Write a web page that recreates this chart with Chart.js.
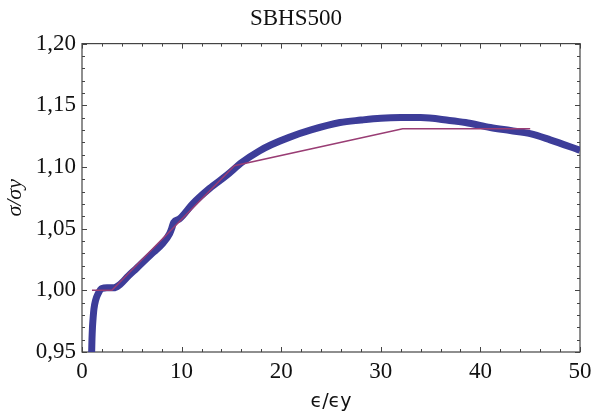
<!DOCTYPE html>
<html>
<head>
<meta charset="utf-8">
<script src="https://cdn.jsdelivr.net/npm/chart.js@4/dist/chart.umd.min.js"></script>
<style>
  html, body { margin: 0; padding: 0; background: #fff; }
  #wrap { width: 592px; height: 417px; }
</style>
</head>
<body>
<div id="wrap"><canvas id="stressChart" width="592" height="417"></canvas></div>
<script>
/** 측정 곡선 (굵은 파란 선) */
const curveX = [0.97, 1.0, 1.05, 1.1, 1.2, 1.37, 1.6, 2.0, 2.5, 3.2, 3.7, 4.7, 5.5, 6.4, 7.2, 8.1, 8.8, 9.0, 9.2, 9.8,
                11.1, 12.8, 14.5, 16.1, 17.8, 19.0, 20.8, 23.0, 25.9, 28.0, 30.0, 32.0, 34.0, 36.9, 38.5, 41.0, 43.0, 45.0, 47.0, 50.0];
const curveY = [0.95, 0.96, 0.97, 0.976, 0.985, 0.992, 0.997, 1.0015, 1.002, 1.002, 1.004, 1.012, 1.018, 1.025, 1.031, 1.038, 1.046, 1.050, 1.055, 1.058,
                1.070, 1.0825, 1.093, 1.104, 1.113, 1.118, 1.124, 1.130, 1.136, 1.138, 1.1395, 1.140, 1.140, 1.1377, 1.136, 1.132, 1.1295, 1.127, 1.122, 1.1135];

/** 다직선 근사 (얇은 보라 선) */
const fitX = [1.0, 3.0, 15.3, 32.2, 45.0];
const fitY = [1.0, 1.0, 1.101, 1.131, 1.131];

/** 눈금 */
const xTicks = [0, 10, 20, 30, 40, 50];
const yTicks = [0.95, 1.00, 1.05, 1.10, 1.15, 1.20];
const xMinorStep = 2;
const yMinorStep = 0.01;

const toPoints = (xs, ys) => xs.map((x, i) => ({ x: x, y: ys[i] }));

/** 프레임과 안쪽 눈금 그리기 */
const framePlugin = {
    id: 'frameTicks',
    beforeDatasetsDraw(chart) {
        const { ctx, chartArea: a, scales: { x, y } } = chart;
        ctx.save();
        ctx.strokeStyle = '#444';
        ctx.lineWidth = 1.2;
        ctx.strokeRect(a.left, a.top, a.right - a.left, a.bottom - a.top);

        ctx.lineWidth = 1;
        ctx.beginPath();
        // x 눈금
        for (let v = xTicks[0]; v <= xTicks[xTicks.length - 1] + 1e-9; v += xMinorStep) {
            const isMajor = xTicks.some(t => Math.abs(t - v) < 1e-6);
            const len = isMajor ? 5 : 3;
            const px = Math.round(x.getPixelForValue(v)) + 0.5;
            ctx.moveTo(px, a.bottom); ctx.lineTo(px, a.bottom - len);
            ctx.moveTo(px, a.top); ctx.lineTo(px, a.top + len);
        }
        // y 눈금
        for (let v = yTicks[0]; v <= yTicks[yTicks.length - 1] + 1e-9; v += yMinorStep) {
            const isMajor = yTicks.some(t => Math.abs(t - v) < 1e-6);
            const len = isMajor ? 5 : 3;
            const py = Math.round(y.getPixelForValue(v)) + 0.5;
            ctx.moveTo(a.left, py); ctx.lineTo(a.left + len, py);
            ctx.moveTo(a.right, py); ctx.lineTo(a.right - len, py);
        }
        ctx.stroke();
        ctx.restore();
    }
};

const ctx = document.getElementById('stressChart').getContext('2d');
new Chart(ctx, {
    type: 'line',
    data: {
        datasets: [
            {
                label: 'fit',
                data: toPoints(fitX, fitY),
                borderColor: 'rgb(153, 61, 116)',
                borderWidth: 1.5,
                pointRadius: 0,
                tension: 0,
                fill: false
            },
            {
                label: 'curve',
                data: toPoints(curveX, curveY),
                borderColor: 'rgb(61, 61, 153)',
                borderWidth: 7,
                pointRadius: 0,
                cubicInterpolationMode: 'monotone',
                fill: false
            }
        ]
    },
    options: {
        responsive: false,
        animation: false,
        layout: { padding: { left: 0, right: 0, top: 0, bottom: 0 } },
        plugins: {
            legend: { display: false },
            tooltip: { enabled: false },
            title: {
                display: true,
                text: 'SBHS500',
                color: '#111',
                font: { family: '"Liberation Serif", "Times New Roman", serif', size: 23, weight: 'normal', lineHeight: 1.2 },
                padding: { top: 5, bottom: 11 }
            }
        },
        scales: {
            x: {
                type: 'linear',
                min: 0,
                max: 50,
                afterBuildTicks: s => { s.ticks = xTicks.map(v => ({ value: v })); },
                afterFit: s => { s.height = 65; s.paddingRight = 12; s.paddingLeft = 0; },
                grid: { display: false, drawTicks: false },
                border: { display: false },
                ticks: {
                    color: '#111',
                    padding: 6,
                    maxRotation: 0,
                    font: { family: '"Liberation Serif", "Times New Roman", serif', size: 23 }
                },
                title: {
                    display: true,
                    text: 'ϵ/ϵy',
                    color: '#111',
                    font: { family: '"DejaVu Sans", sans-serif', size: 19, lineHeight: 1.2 },
                    padding: { top: 0, bottom: 4 }
                }
            },
            y: {
                type: 'linear',
                min: 0.95,
                max: 1.20,
                afterBuildTicks: s => { s.ticks = yTicks.map(v => ({ value: v })); },
                afterFit: s => { s.width = 82; },
                grid: { display: false, drawTicks: false },
                border: { display: false },
                ticks: {
                    color: '#111',
                    padding: 6,
                    font: { family: '"Liberation Serif", "Times New Roman", serif', size: 23 },
                    callback: v => v.toFixed(2).replace('.', ',')
                },
                title: {
                    display: true,
                    text: 'σ/σy',
                    color: '#111',
                    font: { family: '"Liberation Serif", "Times New Roman", serif', size: 22, style: 'italic', lineHeight: 1.2 },
                    padding: { top: 2, bottom: 0 }
                }
            }
        }
    },
    plugins: [framePlugin]
});
</script>
</body>
</html>
